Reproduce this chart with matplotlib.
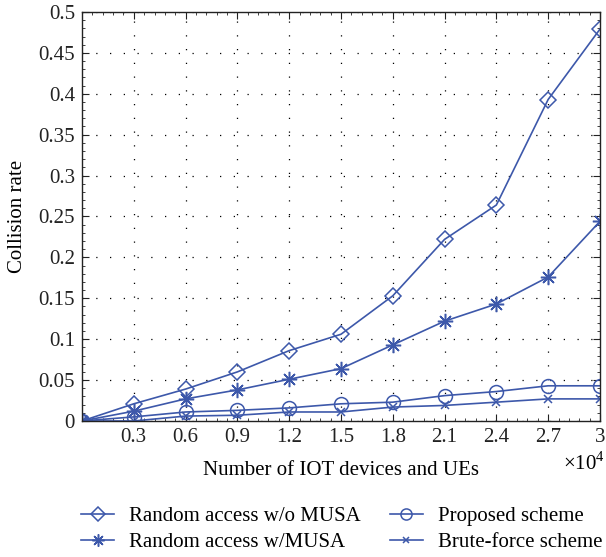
import matplotlib
matplotlib.use("Agg")
import matplotlib.pyplot as plt
from matplotlib.ticker import MultipleLocator, FixedLocator

# Number of devices, in units of 1e4
devices = [0, 0.3, 0.6, 0.9, 1.2, 1.5, 1.8, 2.1, 2.4, 2.7, 3.0]

rate_no_musa = [0, 0.021, 0.039, 0.060, 0.086, 0.106, 0.153, 0.222, 0.264, 0.393, 0.479]
rate_musa = [0, 0.012, 0.027, 0.038, 0.051, 0.064, 0.093, 0.122, 0.143, 0.176, 0.244]
rate_proposed = [0, 0.005, 0.011, 0.013, 0.016, 0.021, 0.023, 0.031, 0.036, 0.043, 0.043]
rate_brute = [0, 0.0, 0.006, 0.007, 0.011, 0.011, 0.017, 0.019, 0.023, 0.027, 0.027]

x_ticks = [0.3, 0.6, 0.9, 1.2, 1.5, 1.8, 2.1, 2.4, 2.7, 3.0]
x_tick_labels = ["0.3", "0.6", "0.9", "1.2", "1.5", "1.8", "2.1", "2.4", "2.7", "3"]
y_ticks = [0, 0.05, 0.1, 0.15, 0.2, 0.25, 0.3, 0.35, 0.4, 0.45, 0.5]
y_tick_labels = ["0", "0.05", "0.1", "0.15", "0.2", "0.25", "0.3", "0.35", "0.4", "0.45", "0.5"]

BLUE = "#3d58aa"
plt.rcParams["font.family"] = ["Liberation Serif", "DejaVu Serif"]
plt.rcParams["mathtext.fontset"] = "custom"
plt.rcParams["mathtext.rm"] = "Liberation Serif"

fig = plt.figure(figsize=(6.06, 5.57), dpi=100)
ax = fig.add_axes([0.1353, 0.2442, 0.8547, 0.7343])

line_kw = dict(color=BLUE, linewidth=1.2, markerfacecolor="none",
               markeredgecolor=BLUE, markeredgewidth=1.1)
ax.plot(devices, rate_no_musa, marker="D", markersize=8.5,
        label="Random access w/o MUSA", **line_kw)
ax.plot(devices, rate_musa, marker=(8, 2, 0), markersize=11,
        label="Random access w/MUSA", **line_kw)
ax.plot(devices, rate_proposed, marker="o", markersize=10,
        label="Proposed scheme", **line_kw)
ax.plot(devices, rate_brute, marker="x", markersize=6,
        label="Brute-force scheme", **line_kw)

ax.set_xlim(0, 3.0)
ax.set_ylim(0, 0.5)
ax.xaxis.set_major_locator(FixedLocator(x_ticks))
ax.set_xticklabels(x_tick_labels)
ax.yaxis.set_major_locator(FixedLocator(y_ticks))
ax.set_yticklabels(y_tick_labels)
ax.xaxis.set_minor_locator(MultipleLocator(0.06))
ax.yaxis.set_minor_locator(MultipleLocator(0.01))
ax.tick_params(which="both", direction="in", top=True, right=True,
               labelsize=15, colors="#222222")
ax.tick_params(which="major", length=5, width=0.8, pad=5)
ax.tick_params(which="minor", length=2.5, width=0.6)
for spine in ax.spines.values():
    spine.set_linewidth(1.0)
    spine.set_color("#222222")

ax.grid(True, which="major", color="black", linestyle=(0, (1, 10)), linewidth=0.9)

ax.set_xlabel("Number of IOT devices and UEs", fontsize=15, labelpad=10)
ax.set_ylabel("Collision rate", fontsize=15, labelpad=8)
fig.text(0.998, 0.167, r"$\times 10^{4}$", ha="right", va="center", fontsize=15)

fig.legend(loc="lower left", bbox_to_anchor=(0.125, 0.0), ncol=2,
           frameon=False, fontsize=15, handlelength=1.6, columnspacing=1.4,
           labelspacing=0.3, handletextpad=0.7, markerscale=0.8,
           borderaxespad=0.0, borderpad=0.25)

fig.savefig("out.png", dpi=100)
